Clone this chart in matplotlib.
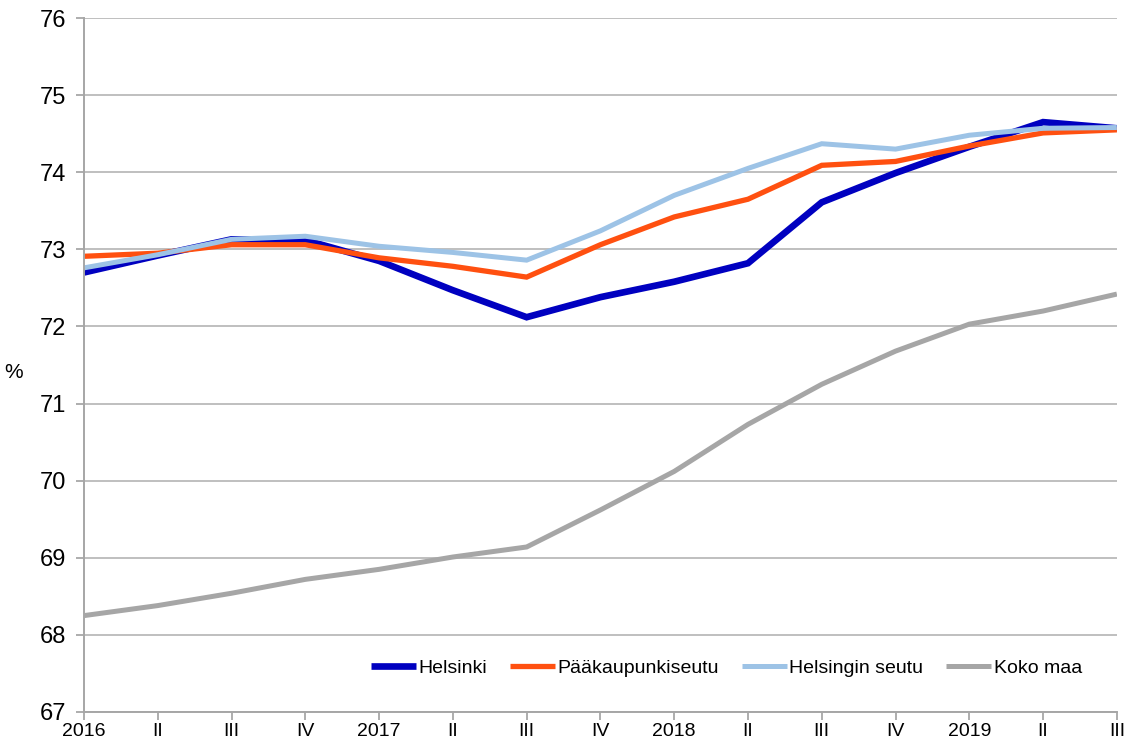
import matplotlib
matplotlib.use("Agg")
import matplotlib.pyplot as plt

plt.rcParams['font.family'] = ['Liberation Sans', 'DejaVu Sans']

categories = ["2016", "II", "III", "IV", "2017", "II", "III", "IV",
              "2018", "II", "III", "IV", "2019", "II", "III"]

helsinki = [72.70, 72.92, 73.13, 73.12, 72.85, 72.47, 72.12, 72.38,
            72.58, 72.82, 73.61, 73.99, 74.33, 74.65, 74.57]
paakaupunkiseutu = [72.91, 72.95, 73.06, 73.06, 72.89, 72.78, 72.64, 73.06,
                    73.42, 73.65, 74.09, 74.14, 74.34, 74.51, 74.55]
helsingin_seutu = [72.76, 72.93, 73.13, 73.17, 73.04, 72.96, 72.86, 73.24,
                   73.70, 74.05, 74.37, 74.30, 74.48, 74.57, 74.58]
koko_maa = [68.25, 68.38, 68.54, 68.72, 68.85, 69.01, 69.14, 69.62,
            70.12, 70.73, 71.25, 71.68, 72.03, 72.20, 72.42]

series_names = ["Helsinki", "Pääkaupunkiseutu", "Helsingin seutu", "Koko maa"]
series_values = [helsinki, paakaupunkiseutu, helsingin_seutu, koko_maa]
colors = ["#0000C0", "#FF5010", "#9DC3E6", "#A6A6A6"]
widths = [4.8, 3.8, 3.6, 3.6]

fig = plt.figure(figsize=(11.27, 7.45), dpi=100)
ax = fig.add_axes([0.0745, 0.0443, 0.9165, 0.9315])

x = list(range(len(categories)))
for name, vals, c, w in zip(series_names, series_values, colors, widths):
    ax.plot(x, vals, color=c, linewidth=w, label=name, solid_joinstyle='miter',
            solid_capstyle='butt')

ax.set_xlim(0, len(categories) - 1)
ax.set_ylim(67, 76)
ax.set_yticks(range(67, 77))
ax.set_xticks(x)
ax.set_xticklabels(categories, fontsize=14)
ax.tick_params(axis='y', labelsize=17, length=6, color='#A0A0A0', width=1.2, pad=7)
ax.tick_params(axis='x', length=6, color='#A0A0A0', width=1.2, pad=2)

ax.grid(axis='y', color='#BFBFBF', linewidth=1.4)
ax.set_axisbelow(True)
for s in ['top', 'right']:
    ax.spines[s].set_visible(False)
for s in ['left', 'bottom']:
    ax.spines[s].set_color('#A6A6A6')
    ax.spines[s].set_linewidth(1.4)

fig.text(14 / 1127, 1 - 373 / 745, '%', fontsize=15, ha='center', va='center')

leg = ax.legend(loc='center', bbox_to_anchor=(0.622, 0.063), ncol=4, frameon=False,
                fontsize=14, handlelength=2.3, handletextpad=0.12, columnspacing=1.2)

fig.savefig('out.png', dpi=100)
